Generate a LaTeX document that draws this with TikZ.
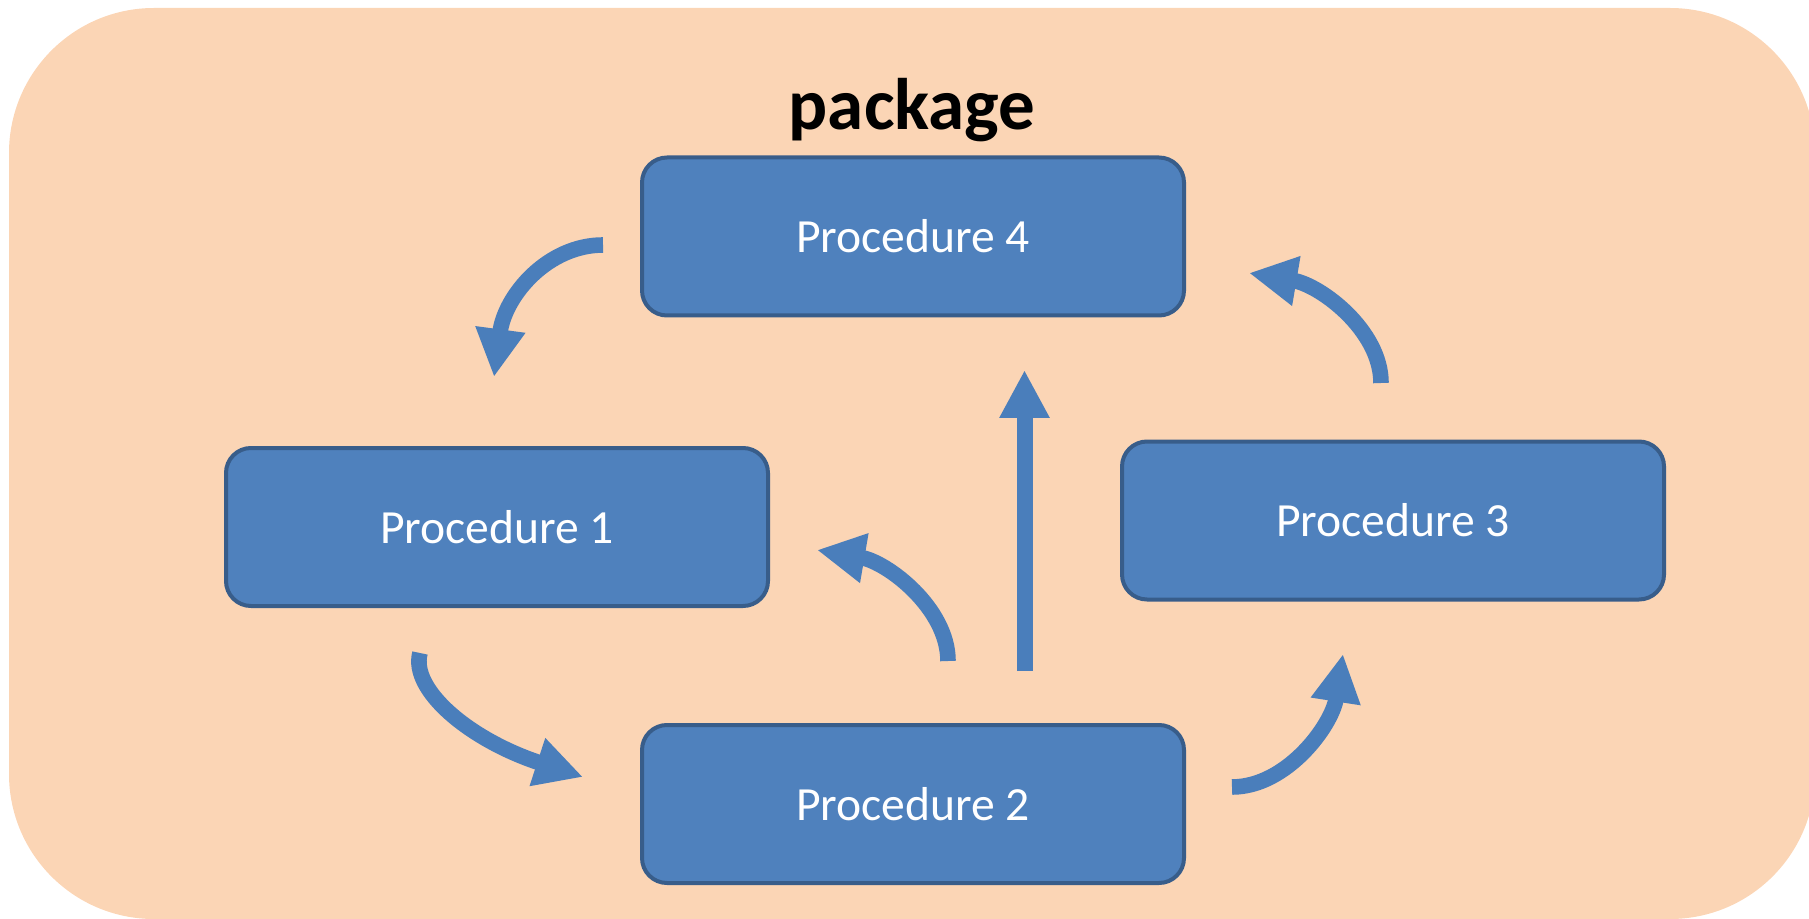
\documentclass[tikz,border=0pt]{standalone}
\usepackage{fontspec}
\setmainfont{Carlito}
\usetikzlibrary{arrows.meta}
\definecolor{pkgfill}{HTML}{FBD5B5}
\definecolor{procfill}{HTML}{4F81BD}
\definecolor{procline}{HTML}{385D8A}
\definecolor{flow}{HTML}{4A7EBB}
\begin{document}
\begin{tikzpicture}[x=0.5pt,y=-0.5pt,
  proc/.style={draw=procline, fill=procfill, line width=2pt, rounded corners=12.5pt,
    minimum width=271pt, minimum height=79pt, inner sep=0pt, text=white,
    font=\fontsize{23.8}{28}\selectfont},
  flowarrow/.style={draw=flow, line width=7.8pt,
    -{Triangle[length=24pt,width=23.5pt]}},
]
\useasboundingbox (0,0) rectangle (1809,919);
% package frame
\fill[pkgfill, rounded corners=72.5pt] (9,8) rectangle (1815,919);
\node[anchor=base, font=\fontsize{36.5}{42}\selectfont\bfseries] (title) at (912,130) {package};

% procedures
\node[proc] (p4) at (913,236.5) {Procedure 4};
\node[proc] (p1) at (497,527) {Procedure 1};
\node[proc] (p3) at (1393,520.5) {Procedure 3};
\node[proc] (p2) at (913,804) {Procedure 2};

% arrow end points
\coordinate (a1s) at (603,245);  \coordinate (a1e) at (494,377);
\coordinate (a2s) at (1232,787); \coordinate (a2e) at (1343,654);
\coordinate (a3s) at (1381,383); \coordinate (a3e) at (1249,273);
\coordinate (a4s) at (948,661);  \coordinate (a4e) at (817,550);
\coordinate (a5s) at (1024.5,671); \coordinate (a5e) at (1024.5,370);
\coordinate (a6s) at (420,653);  \coordinate (a6e) at (583,777);

% flow arrows
\draw[flowarrow] (a1s) .. controls (548,245) and (505,295) .. (a1e);
\draw[flowarrow] (a2s) .. controls (1287,787) and (1332,725) .. (a2e);
\draw[flowarrow] (a3s) .. controls (1381,330) and (1320,285) .. (a3e);
\draw[flowarrow] (a4s) .. controls (948,608) and (887,562) .. (a4e);
\draw[flowarrow, line width=8pt] (a5s) -- (a5e);
\draw[flowarrow] (a6s) .. controls (410,690) and (470,740) .. (a6e);
\end{tikzpicture}
\end{document}
